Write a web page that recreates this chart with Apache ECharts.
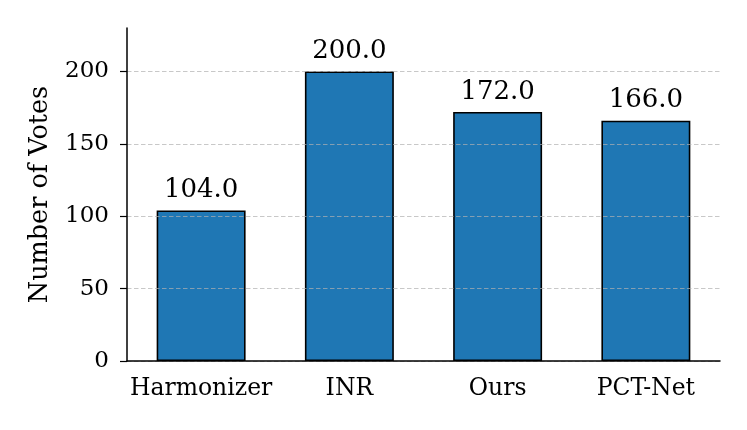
<!DOCTYPE html>
<html>
<head>
<meta charset="utf-8">
<script src="https://cdn.jsdelivr.net/npm/echarts@6/dist/echarts.min.js"></script>
<style>
  html, body { margin: 0; padding: 0; background: #fff; }
  #chart { width: 747px; height: 430px; }
</style>
</head>
<body>
<div id="chart"></div>
<script>
const methods = ['Harmonizer', 'INR', 'Ours', 'PCT-Net']
const votes = [104, 200, 172, 166]
const yTicks = [0, 50, 100, 150, 200]

const FONT = '"DejaVu Serif", serif'
const chart = echarts.init(document.getElementById('chart'), null, { renderer: 'canvas' })

chart.setOption({
  backgroundColor: '#fff',
  animation: false,
  grid: { left: 127, right: 27, top: 28, bottom: 69 },
  xAxis: {
    type: 'category',
    data: methods,
    z: 5,
    axisLine: { lineStyle: { color: '#000', width: 1.5 } },
    axisTick: { alignWithLabel: true, interval: 0, length: 7, lineStyle: { color: '#000', width: 1.2 } },
    axisLabel: { color: '#000', fontFamily: FONT, fontSize: 23.5, margin: 16, interval: 0, hideOverlap: false },
  },
  yAxis: {
    type: 'value',
    min: 0,
    max: 230,
    z: 4, // grid lines sit on top of the bars, like the reference
    name: 'Number of Votes',
    nameLocation: 'middle',
    nameGap: 74,
    nameTextStyle: { color: '#000', fontFamily: FONT, fontSize: 25.5 },
    axisLine: { show: true, lineStyle: { color: '#000', width: 1.5 } },
    axisTick: { show: true, length: 7, customValues: yTicks, lineStyle: { color: '#000', width: 1.2 } },
    axisLabel: { color: '#000', fontFamily: FONT, fontSize: 23, margin: 18, customValues: yTicks },
    splitLine: { show: true, lineStyle: { color: 'rgba(176,176,176,0.7)', type: [4.5, 2.5], width: 1 } },
  },
  series: [{
    type: 'bar',
    data: votes,
    barWidth: '60%',
    itemStyle: { color: '#1f77b4', borderColor: '#000', borderWidth: 1.6 },
    label: {
      show: true,
      position: 'top',
      distance: 7,
      color: '#000',
      fontFamily: FONT,
      fontSize: 26,
      formatter: p => p.value.toFixed(1),
    },
  }],
})
</script>
</body>
</html>
